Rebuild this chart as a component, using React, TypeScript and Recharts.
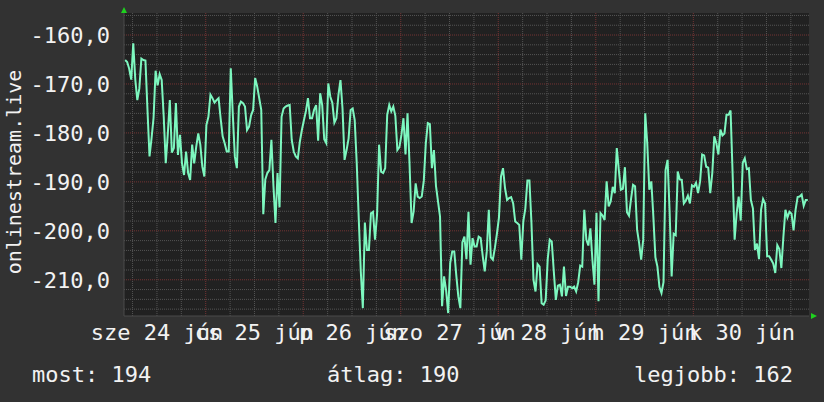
import { LineChart, Line, XAxis, YAxis, CartesianGrid } from 'recharts'

// latency samples, every 30 minutes starting 24 jún 04:10
const values = [
  -165.1, -165.5, -166.9, -169.1, -161.7, -169.1, -173.3, -170.9, -164.8, -165.1, -165.2, -175.3,
  -184.8, -181.1, -176.9, -167.3, -170.3, -168.0, -169.2, -176.7, -186.2, -180.2, -173.3, -184.0,
  -183.1, -173.9, -184.5, -180.4, -186.2, -188.6, -183.8, -188.2, -189.6, -182.4, -186.2, -182.8,
  -180.1, -182.4, -186.9, -188.9, -178.4, -176.7, -172.2, -172.9, -173.8, -173.3, -172.9, -177.0,
  -180.7, -182.1, -183.8, -183.8, -166.8, -176.3, -184.8, -187.2, -174.6, -173.6, -173.9, -174.6,
  -179.4, -178.7, -176.4, -175.3, -168.8, -170.5, -172.9, -175.3, -196.6, -189.5, -188.2, -187.6,
  -181.4, -190.8, -198.4, -188.2, -195.2, -176.7, -175.0, -174.6, -174.4, -174.3, -181.4, -183.8,
  -184.8, -185.2, -181.8, -179.4, -177.4, -175.5, -172.9, -177.0, -177.0, -175.3, -174.3, -181.6,
  -171.9, -174.3, -181.3, -182.1, -169.9, -172.6, -173.9, -177.9, -177.0, -172.2, -169.2, -175.0,
  -185.5, -183.5, -181.1, -175.3, -175.0, -177.4, -186.2, -197.6, -208.3, -215.8, -198.3, -203.9,
  -203.9, -196.4, -196.1, -201.8, -196.7, -182.4, -187.9, -188.2, -187.2, -176.3, -174.3, -175.6,
  -174.6, -176.5, -183.5, -182.9, -180.4, -177.0, -184.4, -176.0, -186.5, -198.4, -196.1, -190.3,
  -193.0, -193.3, -193.0, -189.8, -182.1, -178.0, -178.2, -187.2, -183.5, -190.8, -194.0, -197.1,
  -215.4, -209.3, -212.2, -216.8, -206.6, -204.2, -204.2, -209.1, -213.4, -215.8, -202.3, -201.2,
  -205.8, -196.1, -206.9, -201.5, -203.2, -203.2, -201.2, -201.5, -205.1, -208.3, -204.2, -195.7,
  -205.4, -205.9, -203.5, -200.6, -197.3, -188.9, -187.2, -191.3, -193.7, -193.3, -193.1, -194.4,
  -198.1, -198.4, -198.8, -205.9, -198.0, -195.4, -189.7, -189.7, -198.4, -210.0, -212.4, -206.8,
  -207.3, -214.8, -215.1, -214.2, -205.8, -201.8, -202.2, -208.3, -214.1, -211.2, -211.0, -213.4,
  -207.3, -213.3, -211.4, -211.4, -211.7, -211.4, -212.4, -210.5, -207.1, -207.3, -195.7, -201.8,
  -203.0, -199.5, -205.9, -211.0, -196.3, -214.4, -196.4, -196.9, -197.8, -189.9, -195.0, -194.0,
  -191.0, -192.3, -183.1, -187.6, -191.6, -191.4, -187.0, -196.2, -196.9, -193.5, -190.6, -190.9,
  -199.8, -202.5, -205.9, -201.8, -176.0, -182.2, -191.6, -189.9, -197.1, -205.4, -207.3, -211.5,
  -212.7, -210.5, -187.6, -185.5, -196.1, -209.3, -200.6, -200.9, -187.9, -189.5, -189.6, -194.4,
  -193.8, -192.8, -194.4, -190.7, -191.0, -190.2, -192.3, -189.9, -184.4, -184.6, -186.9, -187.1,
  -192.3, -188.2, -180.7, -182.1, -184.4, -179.3, -180.5, -180.1, -176.3, -176.3, -175.4, -188.2,
  -201.8, -196.4, -193.0, -197.9, -186.1, -185.2, -187.4, -187.2, -193.7, -195.4, -203.9, -202.6,
  -205.8, -195.7, -193.5, -194.4, -205.2, -205.2, -205.9, -206.7, -208.6, -202.9, -203.7, -207.6,
  -201.2, -195.7, -197.3, -196.1, -196.5, -199.9, -195.7, -193.1, -193.0, -192.6, -194.9, -193.7,
  -193.7,
]
const START_HOUR = 4 + 10 / 60 // hours after 24 jún 00:00
const STEP_HOURS = 0.5

const dayNames = ['sze', 'cs', 'p', 'szo', 'v', 'h', 'k']
const dayNumbers = [24, 25, 26, 27, 28, 29, 30]
const monthName = 'jún'
const labelHours = [12, 36, 60, 84, 108, 132, 156]
const midnightHours = [24, 48, 72, 96, 120, 144]
const sixHourMarks = [6, 12, 18, 30, 36, 42, 54, 60, 66, 78, 84, 90, 102, 108, 114, 126, 132, 138, 150, 156, 162, 168]

const yTicks = [-210, -200, -190, -180, -170, -160]
const yMinor = [-216, -214, -212, -208, -206, -204, -202, -198, -196, -194, -192, -188, -186, -184, -182,
  -178, -176, -174, -172, -168, -166, -164, -162, -158, -156]

const legend = { most: 194, atlag: 190, legjobb: 162 }
const seriesName = 'onlinestream.live'

const data = values.map((v, i) => ({ t: START_HOUR + i * STEP_HOURS, v }))

const FONT = "'DejaVu Sans Mono', monospace"
const TEXT = '#f2f2f2'
const tickStyle = { fill: TEXT, fontSize: 22, fontFamily: FONT }

const fmtY = (v: number) => v.toFixed(1).replace('.', ',')
const fmtX = (h: number) => {
  const d = Math.round((h - 12) / 24)
  return `${dayNames[d]} ${dayNumbers[d]} ${monthName}`
}

export default function App() {
  return (
    <div style={{ position: 'absolute', left: 0, top: 0, width: 824, height: 402, background: '#323232' }}>
      <LineChart width={824} height={402} data={data} margin={{ top: 13, right: 15, bottom: 56, left: 0 }}>
        <CartesianGrid
          fill="#212121"
          stroke="#545454"
          strokeDasharray="1 1"
          horizontalValues={yMinor}
          verticalValues={sixHourMarks}
        />
        <CartesianGrid
          stroke="#743434"
          strokeDasharray="1 1"
          horizontalValues={yTicks}
          verticalValues={midnightHours}
        />
        <XAxis
          type="number"
          dataKey="t"
          domain={[3.89, 172.47]}
          allowDataOverflow
          ticks={labelHours}
          interval={0}
          tickFormatter={fmtX}
          tick={tickStyle}
          tickLine={false}
          tickSize={6}
          tickMargin={2}
          axisLine={{ stroke: '#4a4a4a' }}
          height={30}
        />
        <YAxis
          type="number"
          domain={[-217.4, -155.5]}
          allowDataOverflow
          ticks={yTicks}
          interval={0}
          tickFormatter={fmtY}
          tick={tickStyle}
          tickLine={false}
          tickSize={6}
          tickMargin={8}
          axisLine={{ stroke: '#4a4a4a' }}
          width={124}
        />
        <Line
          type="linear"
          dataKey="v"
          stroke="#7df7bf"
          strokeWidth={2}
          dot={false}
          isAnimationActive={false}
        />
      </LineChart>
      <svg width={824} height={402} style={{ position: 'absolute', left: 0, top: 0, pointerEvents: 'none' }}>
        <polygon points="121,13 127,13 124,7" fill="#1fd11f" />
        <polygon points="811,313 811,319 817,316" fill="#1fd11f" />
        <text x={21} y={172} transform="rotate(-90 21 172)" textAnchor="middle" fill={TEXT} fontSize={20} fontFamily={FONT}>
          {seriesName}
        </text>
        <text x={32} y={382} fill={TEXT} fontSize={22} fontFamily={FONT}>{`most: ${legend.most}`}</text>
        <text x={327} y={382} fill={TEXT} fontSize={22} fontFamily={FONT}>{`átlag: ${legend.atlag}`}</text>
        <text x={634} y={382} fill={TEXT} fontSize={22} fontFamily={FONT}>{`legjobb: ${legend.legjobb}`}</text>
      </svg>
    </div>
  )
}
